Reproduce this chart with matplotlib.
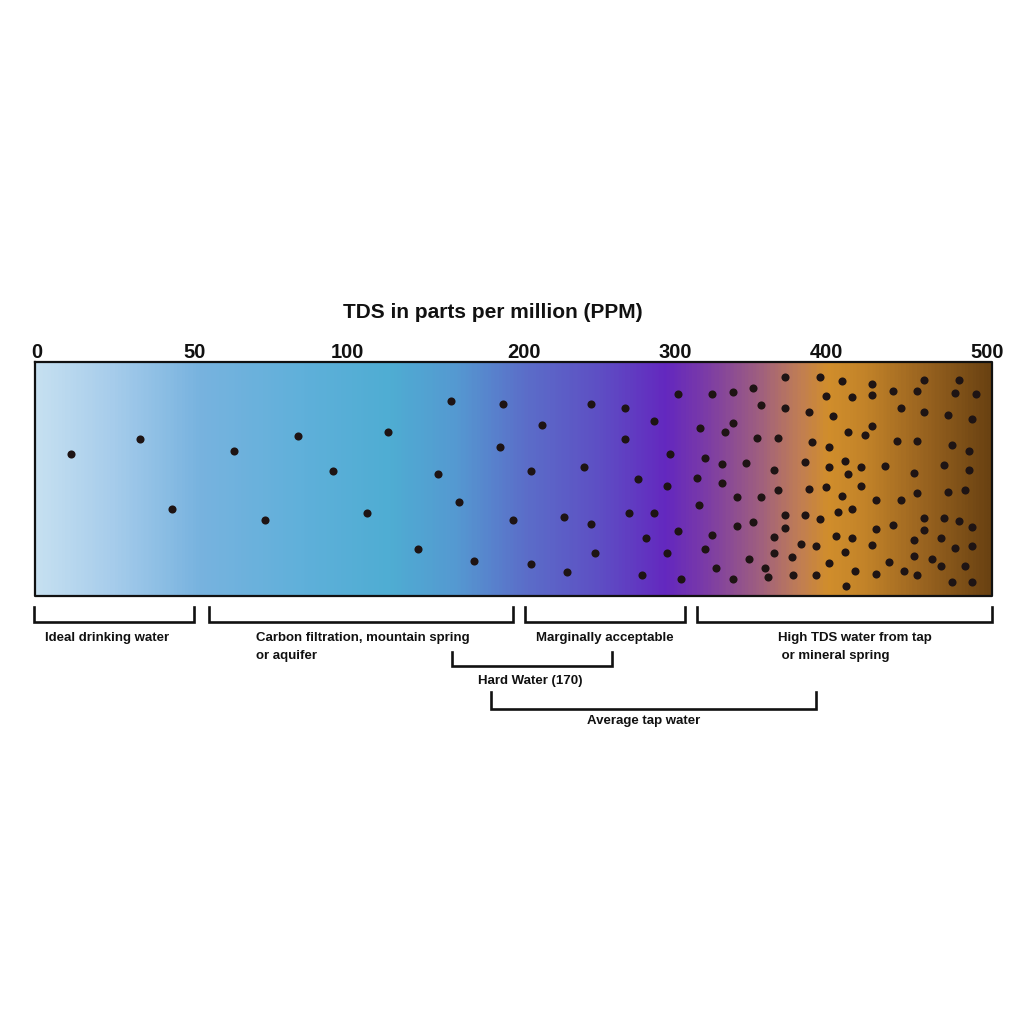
import numpy as np
import matplotlib
matplotlib.use("Agg")
from matplotlib import pyplot as plt
from matplotlib.colors import LinearSegmentedColormap

plt.rcParams['font.family'] = ['Liberation Sans', 'DejaVu Sans']

## Scale labels across the top of the bar ##
tick_labels = ["0", "50", "100", "200", "300", "400", "500"]
tick_pos = [37, 195, 347, 524, 675, 826, 987]

## Dots (particles) inside the bar, x / y in image pixels ##
dot_x = [70.7, 140, 172.3, 233.7, 265.3,
         298.3, 332.7, 367.3, 387.7, 418.3, 437.7, 451.3, 458.7, 474, 500, 503.3, 512.7,
         542.3, 531.3, 531.3, 567.3, 563.7, 584, 591, 591, 594.7, 625.3, 625.3, 629, 638.3,
         642, 645.7, 653.7, 653.7, 666.7, 666.7, 670.3, 677.7, 677.7, 681.3, 700, 696.7, 699.3,
         712.3, 732.7, 753.3, 785, 820, 761, 785, 808.7, 825.7, 832.7, 725.3, 732.7,
         757.3, 777.7, 812.3, 829.3, 705, 722, 746, 774, 805, 829.3, 722, 736.7, 761, 777.7,
         808.7, 825.7, 736.7, 753.3, 785, 785, 805, 820, 838, 712.3, 774, 801.3, 816, 836,
         705, 749.3, 774, 792.3, 829.3, 716, 732.7, 764.7, 768.3, 792.7, 816,
         842.3, 872.3, 924.3, 959, 851.7, 872.3, 893, 917, 955.3, 976, 900.7, 924.3, 948.3,
         972, 848.3, 865, 872.3, 896.7, 917, 951.7, 968.7, 844.7, 848.3, 861.3, 885.3, 913.7,
         944.3, 968.7, 861.3, 842.3, 851.7, 876, 900.7, 917, 948.3, 965, 924.3, 944.3, 959.3,
         972, 876, 893, 924.3, 851.7, 913.7, 941, 872.3, 844.7, 955.3, 972, 889, 913.7, 931.7,
         941, 965, 855.3, 876, 904.3, 917, 846.3, 951.7, 972]
dot_y = [454, 439.3, 509, 450.7, 520.3,
         435.7, 471, 512.7, 432, 549.3, 474.3, 401, 502, 560.7, 446.7, 404.3, 520.3,
         425, 471, 564.3, 571.7, 516.7, 467.3, 404.3, 524, 553, 408, 439.3, 513, 479.3,
         575, 538.3, 421.3, 512.7, 486.3, 553, 454, 393.7, 531, 579, 428.3, 478, 505.3,
         393.7, 391.7, 388.3, 377.3, 377.3, 405, 408.3, 412.3, 395.7, 415.7, 432, 423.3,
         437.7, 437.7, 441.7, 447.3, 457.7, 463.7, 463, 470.3, 462, 466.7, 483, 496.7, 496.7, 490,
         489.3, 486.7, 526, 522, 515.3, 527.7, 515.3, 518.7, 511.7, 535, 536.7, 543.7, 545.7, 536,
         549.3, 558.7, 553, 556.7, 562.7, 567.7, 578.7, 567.7, 577.3, 574.7, 575,
         380.7, 384, 380.3, 380.3, 396.7, 395, 391, 391, 393, 393.7, 408, 411.7, 415.3,
         418.7, 432.3, 435.3, 426, 441, 441, 444.7, 450.7, 460.7, 474.3, 466.7, 466, 473.3,
         465, 469.7, 486, 496, 509.3, 500, 500, 493, 492, 489.7, 518, 518, 521.3,
         527, 528.7, 525.3, 530.3, 538, 539.7, 538, 545, 552.3, 548.3, 545.7, 562, 556, 559,
         565.7, 565.7, 571, 573.7, 571, 575, 585.7, 582.3, 582.3]

## Brackets under the bar: (left, right, top, bottom) ##
brackets = [(34, 194, 607, 622),
            (209, 513, 607, 622),
            (525, 685, 607, 622),
            (697, 992, 607, 622),
            (452, 612, 652, 666),
            (491, 816, 692, 709)]
bracket_text = ["Ideal drinking water",
                "Carbon filtration, mountain spring\nor aquifer",
                "Marginally acceptable",
                "High TDS water from tap\n or mineral spring",
                "Hard Water (170)",
                "Average tap water"]
text_pos = [(45, 638), (256, 638), (536, 638), (778, 638), (478, 681), (587, 721)]

## Gradient colours from left to right ##
grad_colors = ["#c6e0f1", "#a6cceb", "#78b3df", "#5fb0da", "#4fadd3", "#5599d1",
               "#5b6fc9", "#5e4fc4", "#6428bf", "#7a3aa8", "#a0607e", "#c07d55",
               "#d18e2c", "#c28329", "#9a6420", "#6a4212"]
grad_stops = [0, 0.08, 0.17, 0.28, 0.37, 0.44, 0.51, 0.59, 0.66, 0.7, 0.76, 0.8,
              0.83, 0.87, 0.93, 1]
bar_left, bar_right, bar_top, bar_bottom = 35, 992, 362, 596

fig = plt.figure(figsize=(10.24, 10.24), dpi=100)
ax = fig.add_axes([0, 0, 1, 1])
ax.set_xlim(0, 1024)
ax.set_ylim(1024, 0)
ax.axis("off")

cmap = LinearSegmentedColormap.from_list("tds", list(zip(grad_stops, grad_colors)))
grad = np.linspace(0, 1, 600).reshape(1, -1)
ax.imshow(grad, cmap=cmap, aspect="auto",
          extent=[bar_left, bar_right, bar_bottom, bar_top], zorder=1)
ax.plot([bar_left, bar_right, bar_right, bar_left, bar_left],
        [bar_top, bar_top, bar_bottom, bar_bottom, bar_top],
        color="#111111", lw=1.6, zorder=3)

ax.scatter(dot_x, dot_y, s=34, color="#1e1414", zorder=4, linewidths=0)

## Title and scale ##
ax.text(493, 313, "TDS in parts per million (PPM)", ha="center", va="center",
        fontsize=15, fontweight="bold", color="#111111")
for lab, xp in zip(tick_labels, tick_pos):
    ax.text(xp, 352, lab, ha="center", va="center", fontsize=14.5,
            fontweight="bold", color="#111111")

## Brackets ##
for (l, r, t, b) in brackets:
    ax.plot([l, l, r, r], [t, b, b, t], color="#111111", lw=1.9,
            solid_joinstyle="miter", zorder=3)
for txt, (tx, ty) in zip(bracket_text, text_pos):
    for i, line in enumerate(txt.split("\n")):
        ax.text(tx, ty + i * 17.5, line, ha="left", va="center",
                fontsize=9.5, fontweight="bold", color="#111111")

plt.savefig("out.png", dpi=100)
